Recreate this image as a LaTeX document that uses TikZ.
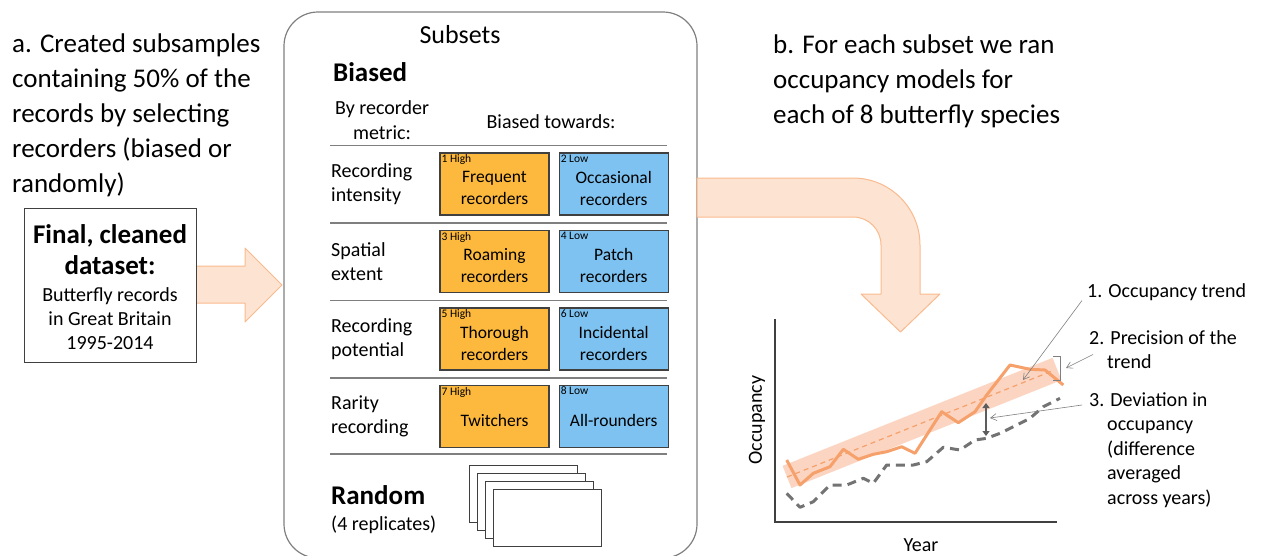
\documentclass[tikz,border=0pt]{standalone}
\usepackage{fontspec}
\setmainfont{Carlito}
\usetikzlibrary{positioning,arrows.meta}

\definecolor{flowfill}{HTML}{FDE3D2}
\definecolor{flowedge}{HTML}{F9BA8E}
\definecolor{highfill}{HTML}{FDB93D}
\definecolor{lowfill}{HTML}{7DC2F0}
\definecolor{boxedge}{HTML}{404040}
\definecolor{rulegray}{HTML}{7F7F7F}
\definecolor{modelgray}{HTML}{737373}
\definecolor{bandfill}{HTML}{FBD5C1}
\definecolor{trendorange}{HTML}{F6A16B}

\begin{document}
\begin{tikzpicture}[x=1pt, y=-1pt]
  \tikzstyle{bigtext} = [font=\fontsize{27}{35}\selectfont, align=left, inner sep=0pt]
  \tikzstyle{midtext} = [font=\fontsize{20}{24.5}\selectfont, inner sep=0pt]
  \tikzstyle{headtext} = [font=\fontsize{27}{31}\selectfont\bfseries, inner sep=0pt]
  \tikzstyle{flow} = [fill=flowfill, draw=flowedge, line width=1pt, line join=round]
  \tikzstyle{biasbox} = [draw=boxedge, line width=1.2pt, minimum width=109pt, minimum height=62pt]
  \tikzstyle{boxtext} = [font=\fontsize{17.5}{22}\selectfont, align=center, inner sep=0pt]
  \tikzstyle{tag} = [font=\fontsize{11.5}{13}\selectfont, inner sep=2pt]
  \tikzstyle{divider} = [draw=rulegray, line width=1.2pt]
  \tikzstyle{leader} = [draw=rulegray, line width=0.6pt, -{Straight Barb[length=6pt,width=7pt]}]

  \useasboundingbox (0,0) rectangle (1262,555);

  % Step a
  \node[bigtext, anchor=north west] (stepa) at (12,34)
    {a. Created subsamples\\containing 50\% of the\\records by selecting\\recorders (biased or\\randomly)};

  \filldraw[flow] (196,266) -- (245,266) -- (245,248) -- (282,285)
    -- (245,322) -- (245,303) -- (196,303) -- cycle;

  \node[draw=boxedge, fill=white, line width=1pt, minimum width=172pt, minimum height=154pt] (dataset) at (110,285) {};
  \node[headtext, align=center] (datatitle) at (110,249.5) {Final, cleaned\\dataset:};
  \node[midtext, align=center, font=\fontsize{20}{24}\selectfont] (datadesc) at (110,319)
    {Butterfly records\\in Great Britain\\1995-2014};

  % Subsets
  \node[draw=rulegray, line width=1.2pt, rounded corners=34pt, minimum width=413pt, minimum height=546pt] (subsets) at (490.5,285) {};
  \node[font=\fontsize{26}{31}\selectfont, inner sep=0pt] (subsetstitle) at (460,35) {Subsets};
  \node[headtext, anchor=west] (biased) at (333,72) {Biased};
  \node[midtext, align=center] (metrichead) at (382,120) {By recorder\\metric:};
  \node[midtext] (towardshead) at (551,122) {Biased towards:};

  \foreach \row/\metric/\hightext/\lowtext in {
      1/{Recording\\intensity}/{Frequent\\recorders}/{Occasional\\recorders},
      2/{Spatial\\extent}/{Roaming\\recorders}/{Patch\\recorders},
      3/{Recording\\potential}/{Thorough\\recorders}/{Incidental\\recorders},
      4/{Rarity\\recording}/{Twitchers}/{All-rounders}}
  {
    \pgfmathsetmacro\ypos{184+77.5*(\row-1)}
    \pgfmathtruncatemacro\highno{2*\row-1}
    \pgfmathtruncatemacro\lowno{2*\row}
    \draw[divider] (330,\ypos-38.5) -- (667,\ypos-38.5);
    \node[midtext, align=left, anchor=west] (metric\row) at (331,\ypos) {\metric};
    \node[biasbox, fill=highfill] (high\row) at (494.5,\ypos) {};
    \node[biasbox, fill=lowfill, right=9pt of high\row] (low\row) {};
    \node[tag, anchor=north west] (hightag\row) at (high\row.north west) {\highno{} High};
    \node[tag, anchor=north west] (lowtag\row) at (low\row.north west) {\lowno{} Low};
    \node[boxtext] (hightext\row) at ([yshift=-4pt]high\row.center) {\hightext};
    \node[boxtext] (lowtext\row) at ([yshift=-4pt]low\row.center) {\lowtext};
  }
  \draw[divider] (330,454) -- (667,454);

  \node[headtext, anchor=west] (random) at (331,495) {Random};
  \node[midtext, anchor=west] (replicates) at (331,525) {(4 replicates)};
  \foreach \k in {0,...,3}
    \draw[draw=boxedge, fill=white, line width=1pt] (469+8.3*\k,465+8*\k) rectangle ++(108,57);

  % Step b
  \filldraw[flow] (697,178) -- (853,178) .. controls (890,178) and (920,208) .. (920,245)
    -- (920,294) -- (940,294) -- (900.5,332) -- (861,294) -- (881,294) -- (881,245)
    .. controls (881,229.5) and (868.5,217) .. (853,217) -- (697,217) -- cycle;

  \node[bigtext, anchor=north west] (stepb) at (773,35)
    {b. For each subset we ran\\occupancy models for\\each of 8 butterfly species};

  % Plot
  \coordinate (origin) at (775,522);
  \coordinate (ytop) at (775,319);
  \coordinate (xend) at (1057,522);
  \draw[draw=boxedge, line width=1.5pt] (ytop) -- (origin) -- (xend);
  \node[midtext, rotate=90] (ylabel) at (757,420) {Occupancy};
  \node[midtext] (xlabel) at (921,545) {Year};

  \draw[bandfill, line width=24pt] (787,477) -- (1057,369);
  \draw[trendorange, line width=1.2pt, dash pattern=on 5pt off 4pt] (787,477) -- (1052,371);
  \draw[trendorange, line width=3pt, line join=round]
    (786.7,460) -- (800,485) -- (813.3,473.3) -- (830,466.7) -- (843.3,449.3) -- (858.3,459.3)
    -- (873.3,454.3) -- (886.7,451.7) -- (901.7,446.7) -- (915,453.3) -- (941.7,411.7)
    -- (958.3,422.7) -- (975,411.7) -- (986.7,395) -- (1010,365) -- (1030,369.3)
    -- (1045,370) -- (1063.3,385);
  \draw[modelgray, line width=3pt, dash pattern=on 9pt off 6pt, line join=round]
    (786.7,493.3) -- (800,507.3) -- (813.3,501.7) -- (830,485) -- (846.7,485) -- (863.3,478.3)
    -- (873.3,483.3) -- (886.7,465) -- (913.3,465) -- (926.7,461.7) -- (943.3,447.3)
    -- (960,450) -- (975,440) -- (986.7,438.3) -- (1000,433.3) -- (1013.3,426.7)
    -- (1030,418.3) -- (1043.3,406.7) -- (1060,398.3);

  \coordinate (devtop) at (986,403);
  \coordinate (devbot) at (986,436);
  \draw[boxedge!85, line width=2.5pt, {Triangle[length=5pt,width=7pt]}-{Triangle[length=5pt,width=7pt]}] (devtop) -- (devbot);

  \draw[rulegray, line width=0.8pt] (1053,356) -- (1060,356) -- (1060,380) -- (1053,380);
  \coordinate (bracketmid) at (1066,368);
  \coordinate (trendpt) at (1023,380);
  \coordinate (devpt) at (990,418);

  % Annotations
  \node[midtext, anchor=north west, align=left] (trendlabel) at (1087,283) {1. Occupancy trend};
  \node[midtext, anchor=north west, align=left] (precisionlabel) at (1089,330)
    {2. Precision of the\\\hspace*{18pt}trend};
  \node[midtext, anchor=north west, align=left] (deviationlabel) at (1089,392)
    {3. Deviation in\\\hspace*{18pt}occupancy\\\hspace*{18pt}(difference\\\hspace*{18pt}averaged\\\hspace*{18pt}across years)};

  \draw[leader] ([xshift=-5pt]trendlabel.south west) -- (trendpt);
  \draw[leader] ([xshift=4pt,yshift=-5pt]precisionlabel.west) -- (bracketmid);
  \draw[leader] ([xshift=-7pt,yshift=-13pt]deviationlabel.north west) -- (devpt);
\end{tikzpicture}
\end{document}
